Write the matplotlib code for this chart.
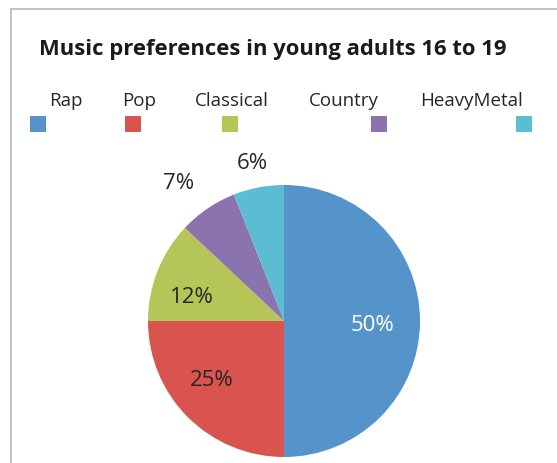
import matplotlib
matplotlib.use("Agg")
import matplotlib.pyplot as plt
from matplotlib.patches import Rectangle
from matplotlib.lines import Line2D
import numpy as np

plt.rcParams['font.family'] = ['Open Sans', 'DejaVu Sans']

# data
genres = ['Rap', 'Pop', 'Classical', 'Country', 'HeavyMetal']
shares = [50, 25, 12, 7, 6]
colors = ['#5494CB', '#D9544F', '#B6C557', '#8B73B0', '#5BBDD1']
pct_labels = ['50%', '25%', '12%', '7%', '6%']

# layout (pixels in a 557x464 figure)
W, H = 557, 464
label_x = [66, 139, 232, 344, 471]
square_x = [38, 133, 230, 379, 524]
label_dist = [0.65, 0.68, 0.70, 1.28, 1.19]
label_shift = [-2, -6, 6.4, 3.2, 0.6]  # degrees off the wedge middle
label_colors = ['white', '#262626', '#262626', '#262626', '#262626']

fig = plt.figure(figsize=(W / 100, H / 100), dpi=100)

# chart border (cropped chart frame)
fig.add_artist(Line2D([11 / W, 11 / W], [0, 1 - 10 / H], color='#BEBEBE', lw=1.3))
fig.add_artist(Line2D([11 / W, 1], [1 - 10 / H, 1 - 10 / H], color='#BEBEBE', lw=1.3))

fig.text(39 / W, 1 - 49 / H, 'Music preferences in young adults 16 to 19',
         fontsize=15.8, fontweight='bold', color='#1A1A1A', va='center', ha='left')

for g, c, lx, sx in zip(genres, colors, label_x, square_x):
    fig.text(lx / W, 1 - 101 / H, g, fontsize=13.5, color='#262626', ha='center', va='center')
    fig.add_artist(Rectangle(((sx - 8) / W, 1 - 133 / H), 16 / W, 16 / H,
                             facecolor=c, edgecolor='none', transform=fig.transFigure))

cx, cy, r = 284, 322, 136
ax = fig.add_axes([(cx - r) / W, (H - cy - r) / H, 2 * r / W, 2 * r / H])
wedges, _ = ax.pie(shares, colors=colors, startangle=90, counterclock=False,
                   radius=1, wedgeprops=dict(linewidth=0))
ax.set_xlim(-1, 1)
ax.set_ylim(-1, 1)

for w, t, d, s, tc in zip(wedges, pct_labels, label_dist, label_shift, label_colors):
    ang = np.deg2rad((w.theta1 + w.theta2) / 2 + s)
    ax.text(d * np.cos(ang), d * np.sin(ang), t, fontsize=16, color=tc,
            ha='center', va='center', clip_on=False)

fig.savefig('out.png', dpi=100, facecolor='white')
